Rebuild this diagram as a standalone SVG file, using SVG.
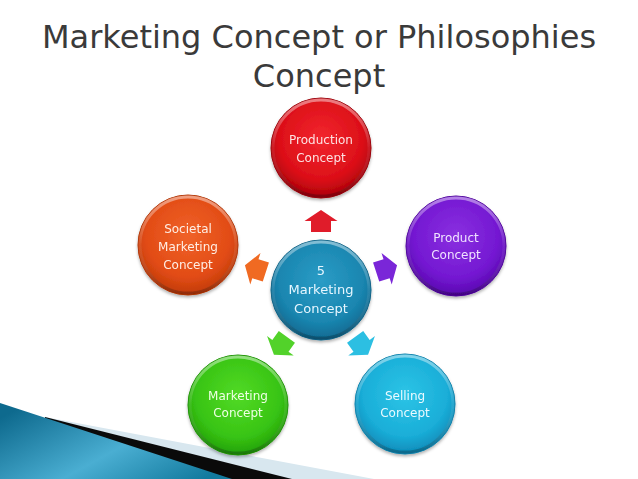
<svg xmlns="http://www.w3.org/2000/svg" width="638" height="479" viewBox="0 0 638 479">
  <defs>
    <style>
      .title { font-family: "DejaVu Sans", "Liberation Sans", sans-serif; font-size: 32px; fill: #3a3a3a; text-anchor: middle; }
      .lbl { font-family: "DejaVu Sans", "Liberation Sans", sans-serif; font-size: 12px; text-anchor: middle; }
      .clbl { font-family: "DejaVu Sans", "Liberation Sans", sans-serif; font-size: 13px; text-anchor: middle; fill: #e6f6ff; }
      .bevel { fill: none; stroke: url(#bevel); stroke-width: 3; }
    </style>
    <filter id="sh" x="-20%" y="-20%" width="140%" height="150%">
      <feDropShadow dx="0" dy="2" stdDeviation="1.5" flood-color="#000" flood-opacity="0.3"/>
    </filter>
    <linearGradient id="bevel" x1="0" y1="0" x2="0" y2="1">
      <stop offset="0" stop-color="#fff" stop-opacity="0.45"/>
      <stop offset="0.5" stop-color="#fff" stop-opacity="0.08"/>
      <stop offset="1" stop-color="#000" stop-opacity="0.25"/>
    </linearGradient>
    <radialGradient id="gRed" cx="50%" cy="40%" r="60%">
      <stop offset="0" stop-color="#f2262e"/>
      <stop offset="0.7" stop-color="#dc0f18"/>
      <stop offset="1" stop-color="#a8000a"/>
    </radialGradient>
    <radialGradient id="gPur" cx="50%" cy="40%" r="60%">
      <stop offset="0" stop-color="#8a30e0"/>
      <stop offset="0.7" stop-color="#7418d2"/>
      <stop offset="1" stop-color="#5806ae"/>
    </radialGradient>
    <radialGradient id="gCya" cx="50%" cy="40%" r="60%">
      <stop offset="0" stop-color="#2cc4e6"/>
      <stop offset="0.7" stop-color="#1aaed8"/>
      <stop offset="1" stop-color="#0e8ab8"/>
    </radialGradient>
    <radialGradient id="gGrn" cx="50%" cy="40%" r="60%">
      <stop offset="0" stop-color="#52da26"/>
      <stop offset="0.7" stop-color="#38c414"/>
      <stop offset="1" stop-color="#22a008"/>
    </radialGradient>
    <radialGradient id="gOra" cx="50%" cy="40%" r="60%">
      <stop offset="0" stop-color="#f06228"/>
      <stop offset="0.7" stop-color="#e24c16"/>
      <stop offset="1" stop-color="#c03a08"/>
    </radialGradient>
    <radialGradient id="gCen" cx="50%" cy="40%" r="60%">
      <stop offset="0" stop-color="#2a9cc6"/>
      <stop offset="0.7" stop-color="#1a86b0"/>
      <stop offset="1" stop-color="#0f6890"/>
    </radialGradient>
    <linearGradient id="gBand" x1="0" y1="0.2" x2="1" y2="0.8">
      <stop offset="0" stop-color="#0e6a8e"/>
      <stop offset="0.55" stop-color="#4aaed2"/>
      <stop offset="1" stop-color="#127a9e"/>
    </linearGradient>
    <path id="arw" d="M11,0 L0,-16.5 L0,-10 L-11,-10 L-11,10 L0,10 L0,16.5 Z"/>
  </defs>

  <rect width="638" height="479" fill="#ffffff"/>

  <g id="decoration">
    <polygon points="45,417 374,479 45,479" fill="#d8e7ef"/>
    <polygon points="45,417 292,479 45,479" fill="#0a0a0a"/>
    <polygon points="0,403 232,479 0,479" fill="url(#gBand)"/>
  </g>

  <g id="title">
    <text class="title" x="319" y="48">Marketing Concept or Philosophies</text>
    <text class="title" x="319" y="87">Concept</text>
  </g>

  <g id="connectors">
    <use href="#arw" transform="translate(321,221) rotate(-90)" fill="#e01c2a"/>
    <use href="#arw" transform="translate(386.6,268.7) rotate(-18)" fill="#7a26d8"/>
    <use href="#arw" transform="translate(361.6,345.8) rotate(54)" fill="#2cbfe2"/>
    <use href="#arw" transform="translate(280.4,345.8) rotate(126)" fill="#52d22a"/>
    <use href="#arw" transform="translate(255.4,268.7) rotate(198)" fill="#f06a22"/>
  </g>

  <g id="center" filter="url(#sh)">
    <circle cx="321" cy="290" r="50" fill="url(#gCen)" stroke="#0e6286" stroke-width="1"/>
    <circle class="bevel" cx="321" cy="290" r="48"/>
    <text class="clbl" x="321" y="275">5</text>
    <text class="clbl" x="321" y="294">Marketing</text>
    <text class="clbl" x="321" y="313">Concept</text>
  </g>

  <g id="production" filter="url(#sh)">
    <circle cx="321" cy="148" r="50" fill="url(#gRed)" stroke="#9a0008" stroke-width="1"/>
    <circle class="bevel" cx="321" cy="148" r="48"/>
    <text class="lbl" x="321" y="144" fill="#fde2e2">Production</text>
    <text class="lbl" x="321" y="162" fill="#fde2e2">Concept</text>
  </g>

  <g id="product" filter="url(#sh)">
    <circle cx="456" cy="246" r="50" fill="url(#gPur)" stroke="#4e049c" stroke-width="1"/>
    <circle class="bevel" cx="456" cy="246" r="48"/>
    <text class="lbl" x="456" y="242" fill="#f0e2ff">Product</text>
    <text class="lbl" x="456" y="259" fill="#f0e2ff">Concept</text>
  </g>

  <g id="selling" filter="url(#sh)">
    <circle cx="405" cy="404" r="50" fill="url(#gCya)" stroke="#0c80aa" stroke-width="1"/>
    <circle class="bevel" cx="405" cy="404" r="48"/>
    <text class="lbl" x="405" y="400" fill="#eafaff">Selling</text>
    <text class="lbl" x="405" y="417" fill="#eafaff">Concept</text>
  </g>

  <g id="marketing" filter="url(#sh)">
    <circle cx="238" cy="405" r="50" fill="url(#gGrn)" stroke="#1e9206" stroke-width="1"/>
    <circle class="bevel" cx="238" cy="405" r="48"/>
    <text class="lbl" x="238" y="400" fill="#eeffe4">Marketing</text>
    <text class="lbl" x="238" y="417" fill="#eeffe4">Concept</text>
  </g>

  <g id="societal" filter="url(#sh)">
    <circle cx="188" cy="245" r="50" fill="url(#gOra)" stroke="#b03406" stroke-width="1"/>
    <circle class="bevel" cx="188" cy="245" r="48"/>
    <text class="lbl" x="188" y="233" fill="#ffeee4">Societal</text>
    <text class="lbl" x="188" y="251" fill="#ffeee4">Marketing</text>
    <text class="lbl" x="188" y="269" fill="#ffeee4">Concept</text>
  </g>
</svg>
